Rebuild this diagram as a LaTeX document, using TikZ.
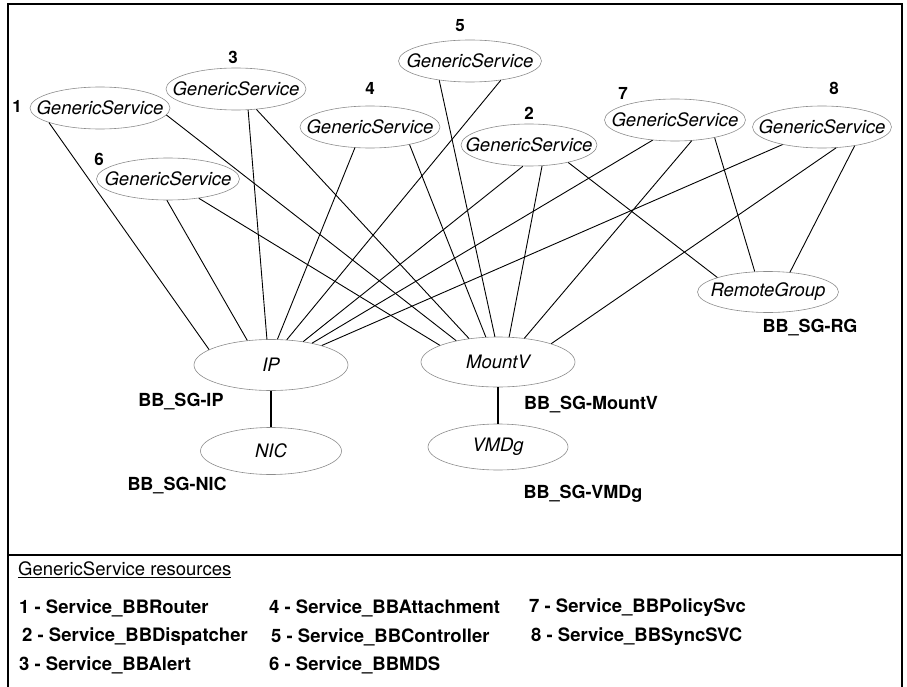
\documentclass[tikz,border=0pt]{standalone}
\usepackage{fontspec}
\setmainfont{TeX Gyre Heros}
\usetikzlibrary{shapes.geometric}
\begin{document}
\begin{tikzpicture}[x=1pt,y=-1pt,
  svc/.style={ellipse, draw=black!45, line width=0.6pt, minimum width=140pt, minimum height=42pt, inner sep=0pt},
  nm/.style={font=\fontsize{18.5}{20}\selectfont\itshape},
  num/.style={font=\fontsize{17}{19}\selectfont\bfseries, inner sep=0pt},
  grp/.style={font=\fontsize{18}{20}\selectfont\bfseries, inner sep=0pt},
  leg/.style={font=\fontsize{18.5}{20}\selectfont\bfseries, inner sep=0pt, anchor=west},
  link/.style={line width=0.9pt},
  dep/.style={line width=1.8pt}]
\useasboundingbox (0,0) rectangle (907,687);
\clip (0,0) rectangle (907,687);
% frame
\draw[line width=1.5pt] (8,690) -- (8,4) -- (902,4) -- (902,555);
\draw[line width=1.5pt] (8,555) -- (902,555);
\draw[line width=2.5pt] (902,555) -- (902,690);
% generic services
\node[svc, label={[nm]center:GenericService}] (gs1) at (100,108) {};
\node[svc, label={[nm]center:GenericService}] (gs3) at (236,89) {};
\node[svc, label={[nm]center:GenericService}] (gs4) at (370,127) {};
\node[svc, minimum width=143pt, label={[nm]center:GenericService}] (gs6) at (168,179) {};
\node[svc, minimum width=143pt, label={[nm]center:GenericService}] (gs5) at (470,61) {};
\node[svc, minimum width=136pt, label={[nm]center:GenericService}] (gs2) at (529,145) {};
\node[svc, minimum width=141pt, label={[nm]center:GenericService}] (gs7) at (675,120) {};
\node[svc, minimum width=139pt, label={[nm]center:GenericService}] (gs8) at (822,127) {};
% other resources
\node[svc, minimum width=141pt, minimum height=41pt, label={[nm]center:RemoteGroup}] (rg) at (768,292) {};
\node[svc, minimum width=154pt, minimum height=51pt, label={[nm]center:IP}] (ip) at (271,365) {};
\node[svc, minimum width=154pt, minimum height=50pt, label={[nm]center:MountV}] (mv) at (498,362) {};
\node[svc, minimum width=141pt, minimum height=47pt, label={[nm]center:NIC}] (nic) at (271,451) {};
\node[svc, minimum width=140pt, minimum height=46pt, label={[nm]center:VMDg}] (vmdg) at (498,447) {};
% numbers
\node[num] (n1) at (17,106) {1};
\node[num] (n2) at (529,113) {2};
\node[num] (n3) at (233,57) {3};
\node[num] (n4) at (370,88) {4};
\node[num] (n5) at (460,26) {5};
\node[num] (n6) at (99,159) {6};
\node[num] (n7) at (623,93) {7};
\node[num] (n8) at (834,88) {8};
% group labels
\node[grp] (lip) at (181,402) {BB\_SG-IP};
\node[grp] (lnic) at (177,486) {BB\_SG-NIC};
\node[grp] (lmv) at (591,405) {BB\_SG-MountV};
\node[grp] (lvm) at (583,494) {BB\_SG-VMDg};
\node[grp] (lrg) at (810,328) {BB\_SG-RG};
% connectors
\draw[link] (gs1.196) -- (ip.166);
\draw[link] (gs1.354) -- (mv.153);
\draw[link] (gs6.267) -- (ip.134);
\draw[link] (gs6.328) -- (mv.164);
\draw[link] (gs3.300) -- (ip.99);
\draw[link] (gs3.315) -- (mv.141);
\draw[link] (gs4.234) -- (ip.76);
\draw[link] (gs4.336) -- (mv.116);
\draw[link] (gs5.328) -- (ip.58);
\draw[link] (gs5.212) -- (mv.97);
\draw[link] (gs2.254) -- (ip.36);
\draw[link] (gs2.302) -- (mv.66);
\draw[link] (gs2.336) -- (rg.164);
\draw[link] (gs7.222) -- (ip.28);
\draw[link] (gs7.309) -- (mv.42);
\draw[link] (gs7.336) -- (rg.123);
\draw[link] (gs8.204) -- (ip.21);
\draw[link] (gs8.304) -- (mv.19);
\draw[link] (gs8.330) -- (rg.42);
\draw[dep] (ip.south) -- (nic.north);
\draw[dep] (mv.south) -- (vmdg.north);
% legend
\node[anchor=west, inner sep=0pt, font=\fontsize{18.5}{20}\selectfont] (lt) at (18,570) {\underline{GenericService resources}};
\node[leg] (l1) at (19,608) {1 - Service\_BBRouter};
\node[leg] (l2) at (22,637) {2 - Service\_BBDispatcher};
\node[leg] (l3) at (19,665) {3 - Service\_BBAlert};
\node[leg] (l4) at (269,608) {4 - Service\_BBAttachment};
\node[leg] (l5) at (271,637) {5 - Service\_BBController};
\node[leg] (l6) at (269,665) {6 - Service\_BBMDS};
\node[leg] (l7) at (529,608) {7 - Service\_BBPolicySvc};
\node[leg] (l8) at (531,637) {8 - Service\_BBSyncSVC};
\end{tikzpicture}
\end{document}
